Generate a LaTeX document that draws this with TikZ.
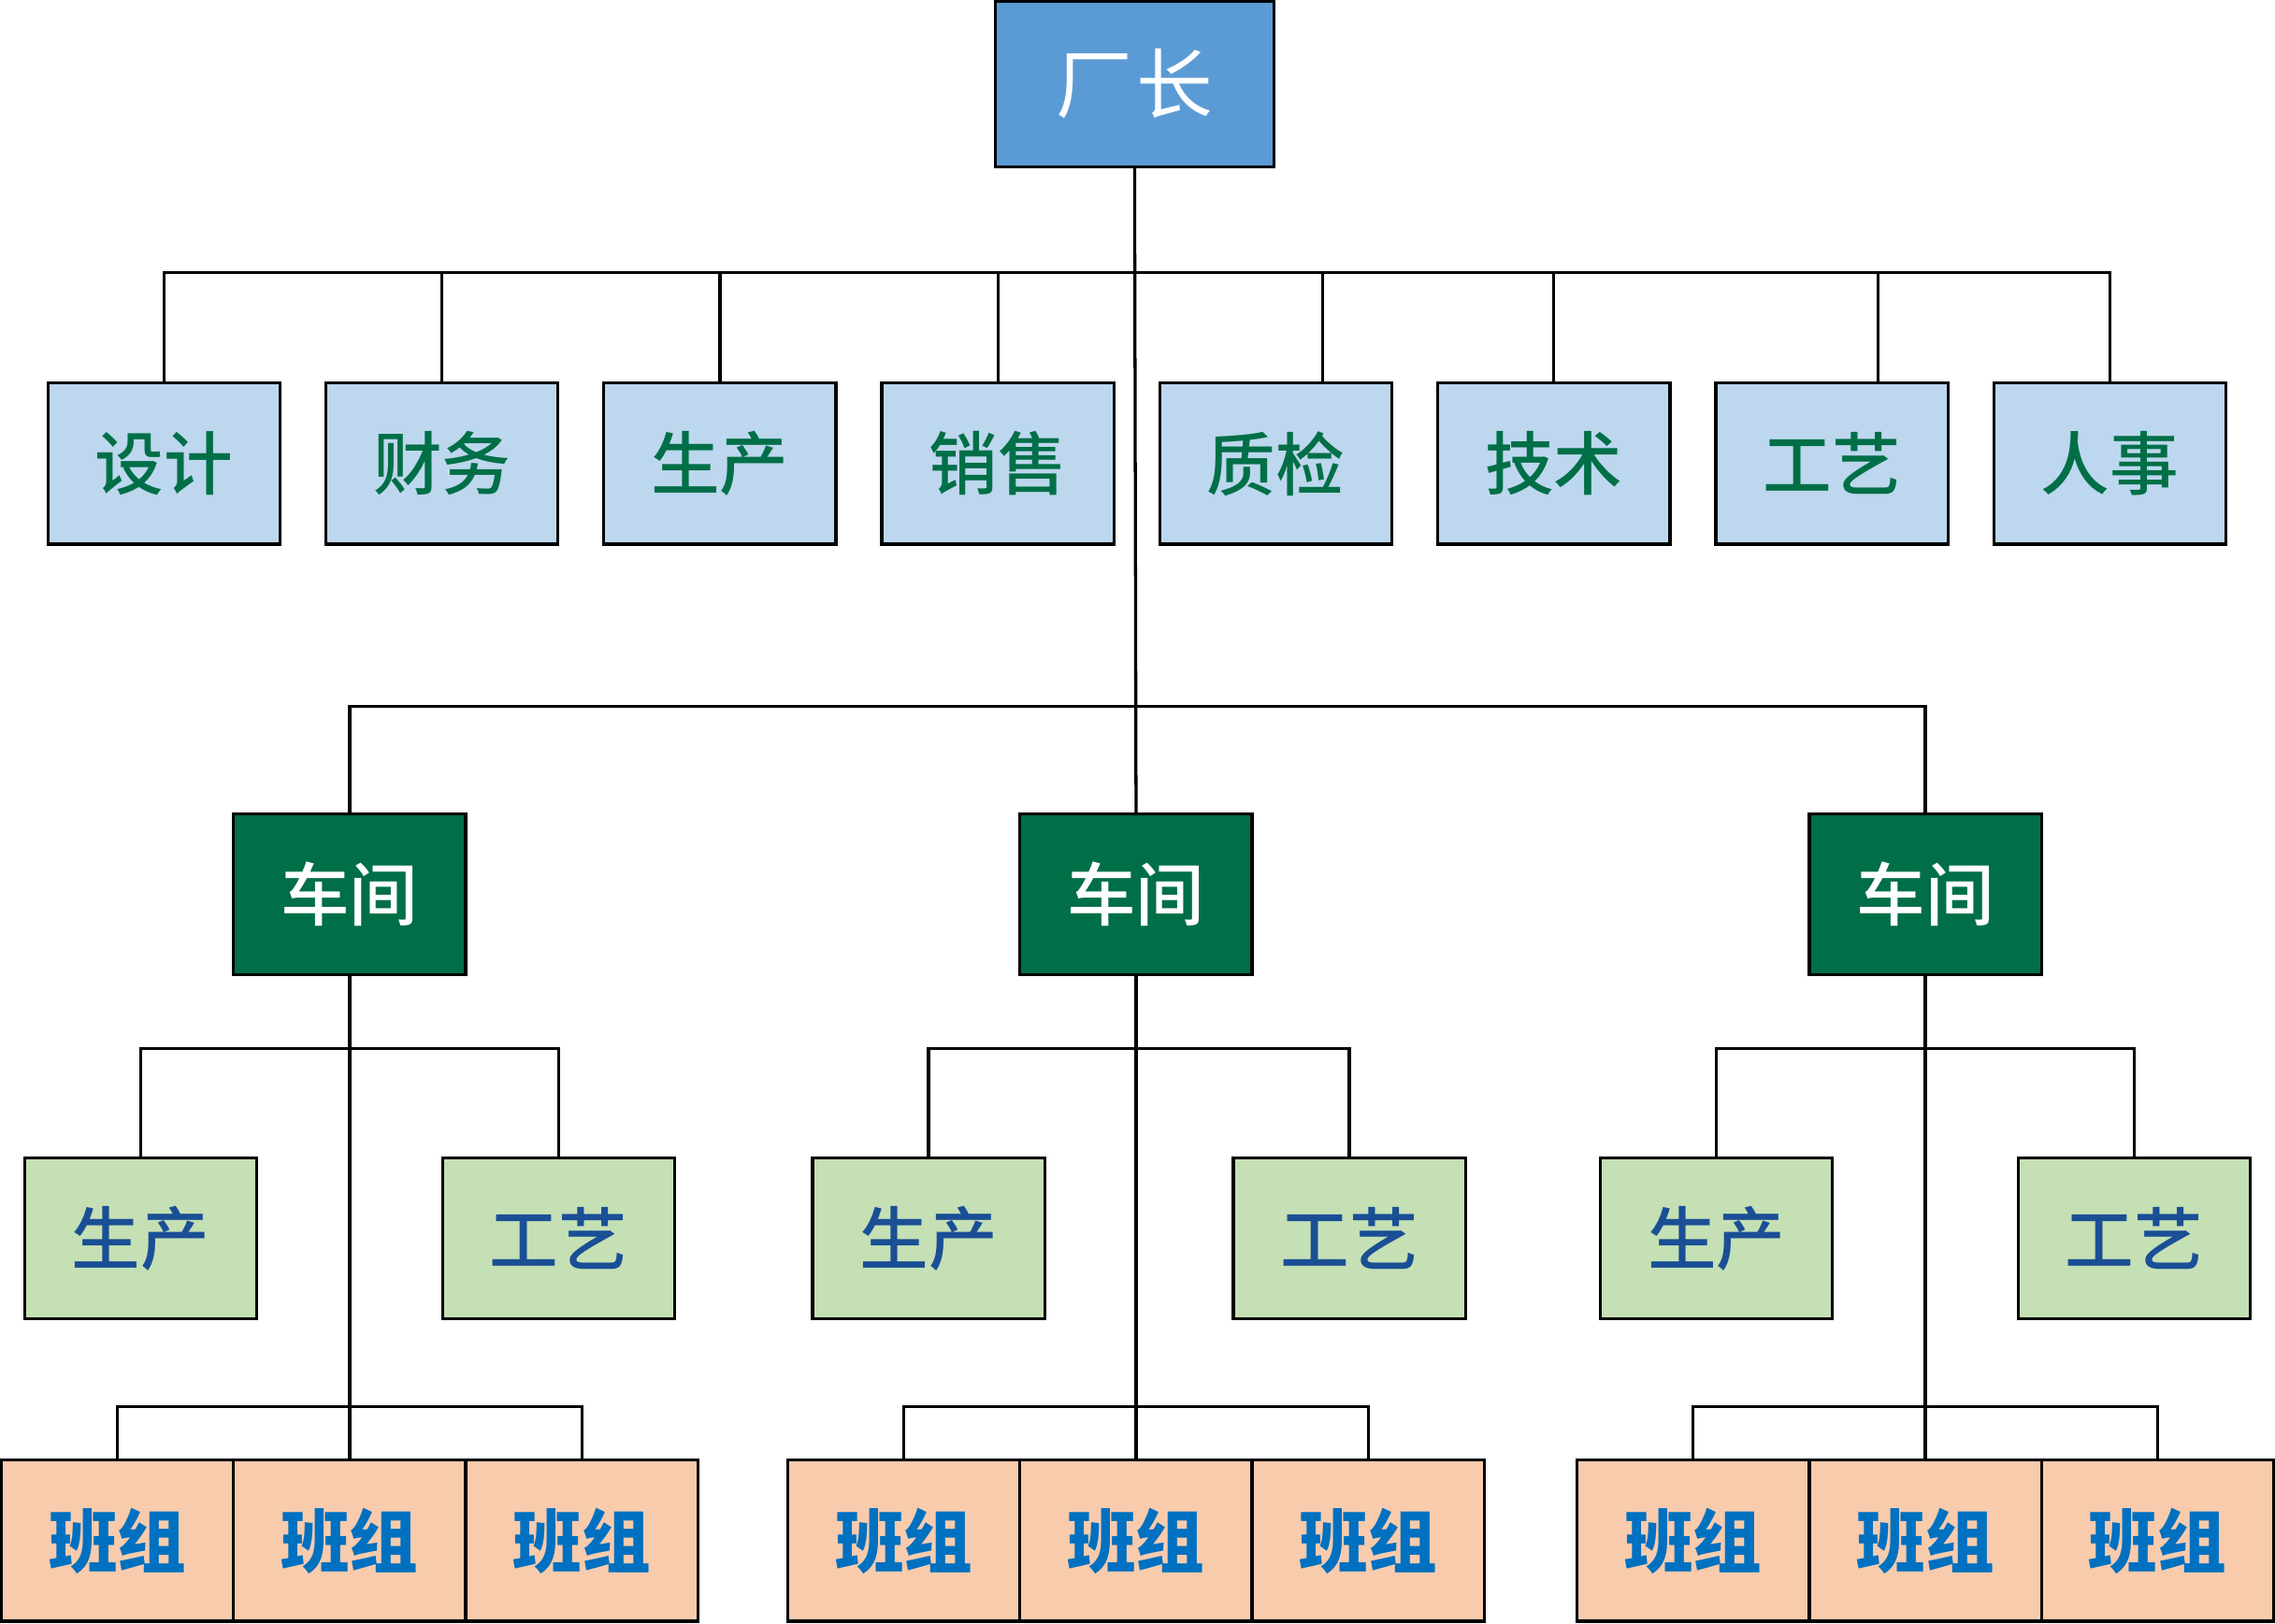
\documentclass[tikz,border=0pt]{standalone}
\usepackage{fontspec}
\usepackage{tikz}
\usetikzlibrary{positioning}
\newfontfamily\cjk{Noto Sans CJK SC}
\newfontfamily\cjkmid{Noto Sans CJK SC Medium}
\definecolor{topblue}{HTML}{5B9BD5}
\definecolor{deptblue}{HTML}{BDD7EE}
\definecolor{deptgreen}{HTML}{006F47}
\definecolor{subgreen}{HTML}{C5E0B4}
\definecolor{subblue}{HTML}{1A4F96}
\definecolor{teampeach}{HTML}{F8CBAD}
\definecolor{teamblue}{HTML}{0070C0}
\tikzstyle{box}=[draw, line width=0.6pt, outer sep=0pt, minimum width=16mm, minimum height=11.1mm, inner sep=0pt, font=\cjk\fontsize{13.5}{15}\selectfont]
\tikzstyle{boss}=[box, fill=topblue, text=white, minimum width=19.2mm, minimum height=11.4mm, font=\cjk\fontsize{15}{17}\selectfont]
\tikzstyle{dept}=[box, fill=deptblue, text=deptgreen, font=\cjkmid\fontsize{13.5}{15}\selectfont]
\tikzstyle{shop}=[box, fill=deptgreen, text=white, font=\cjkmid\fontsize{13.5}{15}\selectfont]
\tikzstyle{sub}=[box, fill=subgreen, text=subblue, font=\cjkmid\fontsize{13.5}{15}\selectfont]
\tikzstyle{team}=[box, fill=teampeach, text=teamblue, font=\cjk\bfseries\fontsize{13.5}{15}\selectfont]
\tikzstyle{wire}=[line width=0.6pt]

\begin{document}
\begin{tikzpicture}[x=0.1mm, y=-0.1mm, node distance=3.16mm]
    \useasboundingbox (0,0) rectangle (1568,1119);

    % factory head and departments
    \node [boss] (head) at (782,58) {厂\kern0.3mm长};
    \node [dept] (d1) at (113,319.5) {设计};
    \node [dept] (d2) [right=of d1] {财务};
    \node [dept] (d3) [right=of d2] {生产};
    \node [dept] (d4) [right=of d3] {销售};
    \node [dept] (d5) [right=of d4] {质检};
    \node [dept] (d6) [right=of d5] {技术};
    \node [dept] (d7) [right=of d6] {工艺};
    \node [dept] (d8) [right=of d7] {人事};
    \coordinate (bus1) at (782,188);

    % workshops
    \node [shop] (ws1) at (241,616.5) {车间};
    \node [shop] (ws2) at (783,616.5) {车间};
    \node [shop] (ws3) at (1327,616.5) {车间};
    \coordinate (bus2) at (783,487);

    % production and process under each workshop
    \node [sub] (p1) at (97,853.5) {生产};
    \node [sub] (t1) at (385,853.5) {工艺};
    \node [sub] (p2) at (640,853.5) {生产};
    \node [sub] (t2) at (930,853.5) {工艺};
    \node [sub] (p3) at (1183,853.5) {生产};
    \node [sub] (t3) at (1471,853.5) {工艺};

    % teams
    \node [team] (g12) at (241,1062) {班组};
    \node [team] (g11) [left=0pt of g12] {班组};
    \node [team] (g13) [right=0pt of g12] {班组};
    \node [team] (g22) at (783,1062) {班组};
    \node [team] (g21) [left=0pt of g22] {班组};
    \node [team] (g23) [right=0pt of g22] {班组};
    \node [team] (g32) at (1327,1062) {班组};
    \node [team] (g31) [left=0pt of g32] {班组};
    \node [team] (g33) [right=0pt of g32] {班组};

    % head to departments
    \draw [wire] (head.south) -- (ws2.north);
    \draw [wire] (d1.north) |- (d8.north |- bus1) -- (d8.north);
    \draw [wire] (d2.north) -- (d2.north |- bus1);
    \draw [wire] (d3.north) -- (d3.north |- bus1);
    \draw [wire] (d4.north) -- (d4.north |- bus1);
    \draw [wire] ([xshift=3.2mm]d5.north) -- ([xshift=3.2mm]d5.north |- bus1);
    \draw [wire] (d6.north) -- (d6.north |- bus1);
    \draw [wire] ([xshift=3.2mm]d7.north) -- ([xshift=3.2mm]d7.north |- bus1);

    % head to workshops
    \draw [wire] (ws1.north) |- (bus2) -| (ws3.north);

    % workshop 1
    \draw [wire] (ws1.south) -- (g12.north);
    \draw [wire] (p1.north) -- ++(0,-75) -| (t1.north);
    \draw [wire] (g11.north) -- ++(0,-37) -| (g13.north);
    % workshop 2
    \draw [wire] (ws2.south) -- (g22.north);
    \draw [wire] (p2.north) -- ++(0,-75) -| (t2.north);
    \draw [wire] (g21.north) -- ++(0,-37) -| (g23.north);
    % workshop 3
    \draw [wire] (ws3.south) -- (g32.north);
    \draw [wire] (p3.north) -- ++(0,-75) -| (t3.north);
    \draw [wire] (g31.north) -- ++(0,-37) -| (g33.north);

\end{tikzpicture}
\end{document}
